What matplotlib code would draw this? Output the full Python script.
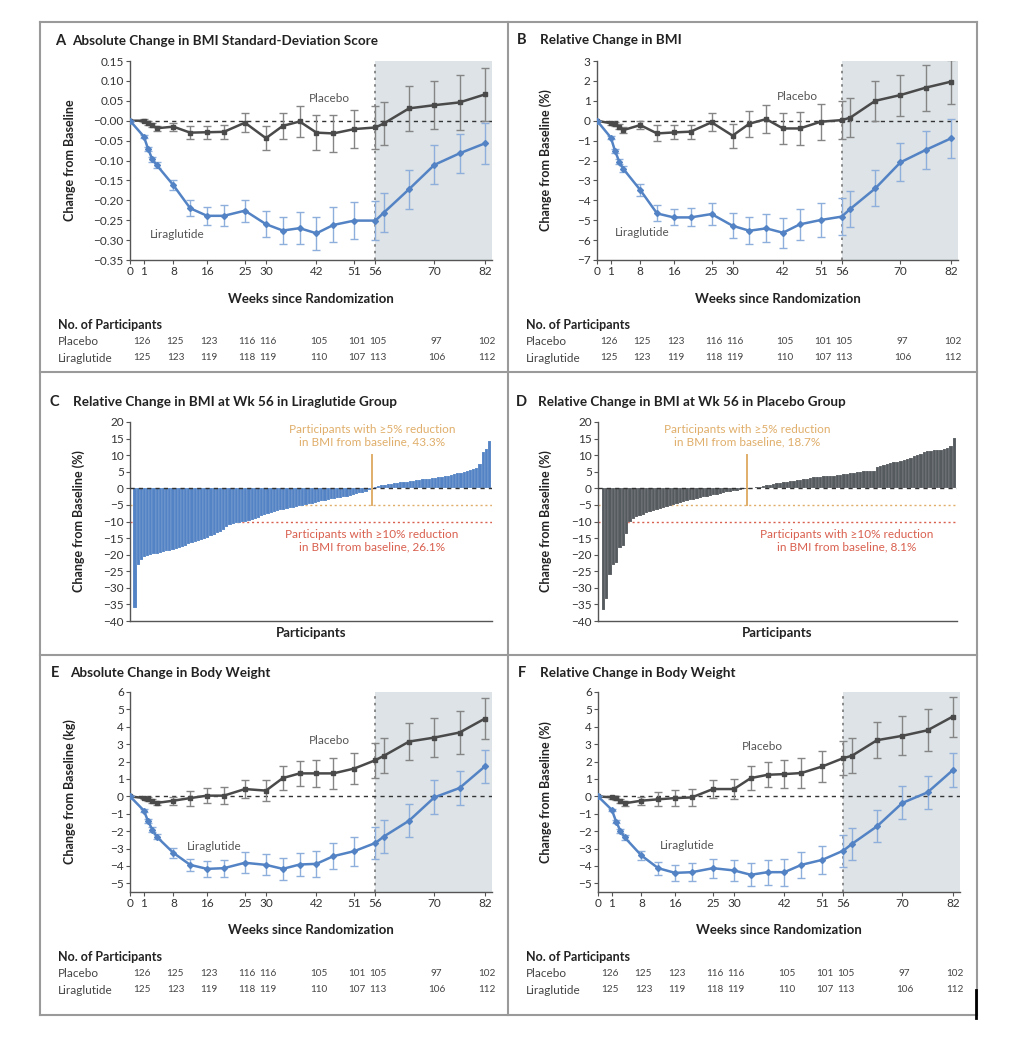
####### IMPORT LIBRARIES #######
import numpy as np
import matplotlib
matplotlib.use("Agg")
import matplotlib.pyplot as plt
from matplotlib.lines import Line2D
from matplotlib.ticker import FuncFormatter
from matplotlib.transforms import blended_transform_factory

plt.rcParams['font.family'] = ['Lato', 'DejaVu Sans']
plt.rcParams['axes.unicode_minus'] = True

####### DATA #######
weeks = [0, 1, 2, 3, 4, 8, 12, 16, 20, 25, 30, 34, 38, 42, 46, 51, 56, 58, 64, 70, 76, 82]
tick_weeks = [0, 1, 8, 16, 25, 30, 42, 51, 56, 70, 82]

# A: absolute change in BMI SD score
a_plac = [0, 0.0, -0.007, -0.011, -0.019, -0.015, -0.03, -0.029, -0.028, -0.005, -0.044, -0.013,
          -0.002, -0.03, -0.032, -0.021, -0.017, -0.007, 0.031, 0.039, 0.046, 0.066]
a_plac_err = [0, 0.004, 0.005, 0.005, 0.006, 0.01, 0.016, 0.016, 0.017, 0.024, 0.03, 0.033,
              0.038, 0.044, 0.047, 0.048, 0.055, 0.054, 0.056, 0.06, 0.07, 0.067]
a_lira = [0, -0.04, -0.071, -0.097, -0.111, -0.162, -0.22, -0.239, -0.239, -0.226, -0.26, -0.276,
          -0.27, -0.283, -0.262, -0.251, -0.251, -0.231, -0.172, -0.111, -0.082, -0.057]
a_lira_err = [0, 0.004, 0.005, 0.006, 0.007, 0.012, 0.02, 0.023, 0.026, 0.028, 0.033, 0.035,
              0.04, 0.042, 0.044, 0.046, 0.048, 0.049, 0.049, 0.049, 0.049, 0.052]

# B: relative change in BMI (%)
b_plac = [0, -0.13, -0.18, -0.3, -0.47, -0.22, -0.64, -0.59, -0.55, -0.08, -0.75, -0.15,
          0.08, -0.39, -0.39, -0.05, 0.03, 0.15, 1.0, 1.29, 1.66, 1.96]
b_plac_err = [0, 0.08, 0.1, 0.12, 0.14, 0.2, 0.4, 0.35, 0.35, 0.45, 0.6, 0.65,
              0.7, 0.78, 0.82, 0.9, 0.95, 0.97, 1.0, 1.03, 1.15, 1.1]
b_lira = [0, -0.85, -1.52, -2.06, -2.43, -3.48, -4.66, -4.86, -4.86, -4.69, -5.28, -5.53,
          -5.41, -5.63, -5.21, -4.99, -4.82, -4.44, -3.40, -2.09, -1.47, -0.89]
b_lira_err = [0, 0.08, 0.1, 0.12, 0.14, 0.3, 0.4, 0.4, 0.45, 0.55, 0.63, 0.67,
              0.7, 0.75, 0.78, 0.86, 0.92, 0.92, 0.9, 0.95, 0.94, 0.96]

# E: absolute change in body weight (kg)
e_plac = [0, -0.1, -0.15, -0.25, -0.38, -0.25, -0.1, 0.04, 0.04, 0.42, 0.33, 1.05,
          1.32, 1.32, 1.32, 1.6, 2.08, 2.33, 3.15, 3.38, 3.67, 4.47]
e_plac_err = [0, 0.08, 0.1, 0.12, 0.14, 0.24, 0.43, 0.45, 0.5, 0.5, 0.6, 0.7,
              0.72, 0.78, 0.88, 0.9, 1.0, 1.0, 1.05, 1.1, 1.24, 1.2]
e_lira = [0, -0.82, -1.43, -1.91, -2.31, -3.25, -3.94, -4.17, -4.13, -3.82, -3.94, -4.17,
          -3.92, -3.88, -3.44, -3.15, -2.68, -2.31, -1.4, -0.06, 0.48, 1.72]
e_lira_err = [0, 0.08, 0.1, 0.12, 0.14, 0.28, 0.36, 0.44, 0.49, 0.6, 0.6, 0.63,
              0.67, 0.74, 0.75, 0.83, 0.9, 0.94, 0.94, 0.98, 0.96, 0.97]

# F: relative change in body weight (%)
f_plac = [0, -0.06, -0.1, -0.25, -0.4, -0.25, -0.17, -0.1, -0.06, 0.42, 0.42, 1.05,
          1.24, 1.28, 1.34, 1.72, 2.2, 2.33, 3.23, 3.48, 3.8, 4.59]
f_plac_err = [0, 0.08, 0.1, 0.12, 0.14, 0.24, 0.4, 0.45, 0.48, 0.5, 0.6, 0.68,
              0.72, 0.8, 0.88, 0.88, 0.98, 1.0, 1.05, 1.12, 1.2, 1.15]
f_lira = [0, -0.78, -1.45, -1.97, -2.35, -3.4, -4.13, -4.4, -4.36, -4.13, -4.26, -4.51,
          -4.36, -4.36, -3.94, -3.65, -3.12, -2.74, -1.72, -0.38, 0.23, 1.51]
f_lira_err = [0, 0.08, 0.1, 0.12, 0.14, 0.28, 0.38, 0.45, 0.5, 0.55, 0.6, 0.65,
              0.72, 0.78, 0.75, 0.82, 0.92, 0.92, 0.92, 0.95, 0.95, 0.97]

# participants table
n_weeks = [0, 8, 16, 25, 30, 42, 51, 56, 70, 82]
n_plac = [126, 125, 123, 116, 116, 105, 101, 105, 97, 102]
n_lira = [125, 123, 119, 118, 119, 110, 107, 113, 106, 112]

# C: liraglutide group, relative change in BMI at week 56 (sorted)
c_vals = [-36.2, -23.2, -21.5, -20.8, -20.4, -20.1, -19.9, -19.7, -19.4, -19.2,
          -19.0, -18.8, -18.6, -18.4, -18.0, -17.7, -17.3, -16.9, -16.6, -16.3,
          -16.0, -15.6, -15.2, -14.9, -14.5, -14.1, -13.6, -13.1, -12.5, -11.8,
          -11.1, -10.7, -10.5, -10.4, -10.3, -10.2, -9.7, -9.4, -9.1, -8.8,
          -8.3, -7.9, -7.6, -7.3, -7.0, -6.8, -6.6, -6.4, -6.2, -6.0,
          -5.8, -5.6, -5.4, -5.2, -4.9, -4.8, -4.6, -4.4, -4.2, -3.9,
          -3.7, -3.5, -3.3, -3.2, -3.0, -2.8, -2.7, -2.5, -2.3, -2.0,
          -1.8, -1.5, -1.3, -1.0, -0.6, -0.2, 0.3, 0.6, 0.9, 1.1,
          1.2, 1.4, 1.5, 1.7, 1.8, 1.9, 2.0, 2.1, 2.3, 2.4,
          2.5, 2.7, 2.8, 2.9, 3.0, 3.2, 3.4, 3.5, 3.7, 3.8,
          4.0, 4.2, 4.5, 4.7, 4.9, 5.2, 5.5, 5.8, 6.1, 7.3,
          11.0, 11.8, 14.3]

# D: placebo group, relative change in BMI at week 56 (sorted)
d_vals = [-36.8, -33.3, -26.2, -23.0, -22.6, -18.0, -17.5, -13.9, -10.2, -9.2,
          -8.7, -8.3, -7.9, -7.5, -7.1, -6.8, -6.5, -6.2, -6.0, -5.7,
          -5.3, -5.0, -4.7, -4.4, -4.1, -3.9, -3.6, -3.4, -3.2, -2.9,
          -2.7, -2.5, -2.3, -2.1, -1.9, -1.6, -1.4, -1.2, -1.0, -0.8,
          -0.7, -0.5, -0.3, -0.1, 0.1, 0.2, 0.3, 0.5, 0.7, 0.9,
          1.1, 1.3, 1.5, 1.7, 1.8, 1.9, 2.1, 2.3, 2.5, 2.6,
          2.8, 2.9, 3.1, 3.3, 3.4, 3.5, 3.6, 3.7, 3.8, 3.8,
          3.9, 4.1, 4.3, 4.4, 4.5, 4.6, 4.8, 5.0, 5.1, 5.2,
          5.3, 5.3, 6.3, 6.6, 6.9, 7.2, 7.5, 7.8, 8.0, 8.2,
          8.5, 8.8, 9.2, 9.6, 10.0, 10.5, 10.9, 11.2, 11.4, 11.5,
          11.5, 11.6, 11.8, 12.2, 12.8, 15.1]

####### CONSTANTS #######
W, H = 1030, 1038
BLUE = "#5383c4"
BLUE_ERR = "#8eaedb"
GRAY = "#4a4a4a"
GRAY_ERR = "#858585"
SHADE = "#dde3e6"
ORANGE = "#e0ae6a"
RED = "#d9604f"
TXT = "#333333"
XMIN = -2.3
XMAX = 83.7


####### FUNCTIONS #######
def fx(px):
    return px / W


def fy(py):
    return 1 - py / H


def ax_rect(left, top, right, bottom):
    # pixel box -> figure fraction rect
    return [fx(left), fy(bottom), (right - left) / W, (bottom - top) / H]


def fwd(w):
    # baseline squeezed against the axis, like in the journal figure
    w = np.asarray(w, dtype=float)
    return np.where(w < 1, XMIN + (1 - XMIN) * w, w)


def inv(p):
    p = np.asarray(p, dtype=float)
    return np.where(p < 1, (p - XMIN) / (1 - XMIN), p)


def minus_fmt(fmt):
    return FuncFormatter(lambda v, pos: (fmt % v).replace("-", "\u2212"))


def style_axis(ax):
    for s in ["top", "right"]:
        ax.spines[s].set_visible(False)
    for s in ["left", "bottom"]:
        ax.spines[s].set_color("#555555")
        ax.spines[s].set_linewidth(1.0)
    ax.tick_params(direction="out", length=3, width=0.8, color="#555555",
                   labelsize=8.5, labelcolor=TXT, pad=1.5)


def title(letter, text, lx, tx, y):
    fig.text(fx(lx), fy(y), letter, fontsize=10.5, fontweight="bold", color="#222222", va="center")
    fig.text(fx(tx), fy(y), text, fontsize=9.7, fontweight="bold", color="#222222", va="center")


def line_panel(rect, plac, plac_err, lira, lira_err, ylim, yticks, fmt, ylabel, ylab_x, xlab_y,
               plac_lbl, lira_lbl):
    ax = fig.add_axes(rect)
    ax.set_xscale("function", functions=(fwd, inv))
    ax.axvspan(56, XMAX, color=SHADE, zorder=0, lw=0)
    ax.axvline(56, color="#777777", ls=(0, (1.5, 2.5)), lw=1.2, zorder=1)
    ax.axhline(0, color="#333333", ls=(0, (3, 3)), lw=1.0, zorder=2)
    ax.errorbar(weeks, plac, yerr=plac_err, color=GRAY, ecolor=GRAY_ERR, elinewidth=1.0,
                capsize=3, capthick=1.0, lw=1.8, marker="s", ms=3, zorder=4)
    ax.errorbar(weeks, lira, yerr=lira_err, color=BLUE, ecolor=BLUE_ERR, elinewidth=1.0,
                capsize=3, capthick=1.0, lw=1.8, marker="D", ms=3, zorder=5)
    ax.set_xlim(0, XMAX)
    ax.set_ylim(*ylim)
    ax.set_xticks(tick_weeks)
    ax.set_xticklabels([str(t) for t in tick_weeks])
    ax.set_yticks(yticks)
    ax.yaxis.set_major_formatter(minus_fmt(fmt))
    ax.minorticks_off()
    style_axis(ax)
    ax.set_ylabel(ylabel, fontsize=9, fontweight="bold", color="#222222")
    ax.yaxis.set_label_coords(ylab_x, 0.5)
    ax.set_xlabel("Weeks since Randomization", fontsize=9.5, fontweight="bold", color="#222222")
    ax.xaxis.set_label_coords(0.5, xlab_y)
    ax.text(plac_lbl[0], plac_lbl[1], "Placebo", fontsize=8.5, color="#555555", ha="center", va="center")
    ax.text(lira_lbl[0], lira_lbl[1], "Liraglutide", fontsize=8.5, color="#555555", ha="center", va="center")
    return ax


def table(ax, lab_x, top_y):
    tr = blended_transform_factory(ax.transAxes, fig.transFigure)
    fig.text(fx(lab_x), fy(top_y), "No. of Participants", fontsize=9, fontweight="bold",
             color="#222222", va="center")
    fig.text(fx(lab_x), fy(top_y + 16.5), "Placebo", fontsize=8.5, color="#444444", va="center")
    fig.text(fx(lab_x), fy(top_y + 33), "Liraglutide", fontsize=8.5, color="#444444", va="center")
    for w, p, l in zip(n_weeks, n_plac, n_lira):
        xa = (w + 0.5 - XMIN) / (XMAX - XMIN)
        ax.text(xa, fy(top_y + 16.5), str(p), transform=tr, fontsize=7.2, color="#444444",
                ha="center", va="center")
        ax.text(xa, fy(top_y + 33), str(l), transform=tr, fontsize=7.2, color="#444444",
                ha="center", va="center")


def bar_panel(rect, vals, color, ylab_x, pct5, pct10, red_x):
    ax = fig.add_axes(rect)
    n = len(vals)
    idx = np.arange(n)
    ax.bar(idx, vals, width=1.0, color=color, edgecolor=(1, 1, 1, 0.35), lw=0.3, zorder=2)
    ax.set_xlim(-1.6, n - 0.2)
    ax.set_ylim(-40, 20)
    ax.axhline(0, color="#333333", ls=(0, (3, 3)), lw=1.0, zorder=3)
    ax.axhline(-5, color=ORANGE, ls=(0, (1.5, 2)), lw=1.0, zorder=1)
    ax.axhline(-10, color=RED, ls=(0, (1.5, 2)), lw=1.0, zorder=1)
    cross = np.searchsorted(vals, 0) - 1.0
    ax.plot([cross, cross], [-5, 10], color=ORANGE, lw=1.4, zorder=4)
    ax.text(cross, 16, "Participants with \u22655% reduction\nin BMI from baseline, " + pct5,
            color=ORANGE, fontsize=8.5, ha="center", va="center", linespacing=1.15)
    ax.text(red_x, -15.8, "Participants with \u226510% reduction\nin BMI from baseline, " + pct10,
            color=RED, fontsize=8.5, ha="center", va="center", linespacing=1.15,
            transform=blended_transform_factory(ax.transAxes, ax.transData))
    ax.set_yticks(np.arange(-40, 21, 5))
    ax.yaxis.set_major_formatter(minus_fmt("%d"))
    ax.set_xticks([])
    style_axis(ax)
    ax.set_ylabel("Change from Baseline (%)", fontsize=9, fontweight="bold", color="#222222")
    ax.yaxis.set_label_coords(ylab_x, 0.5)
    ax.set_xlabel("Participants", fontsize=9.5, fontweight="bold", color="#222222", labelpad=4)
    return ax


####### BUILD FIGURE #######
fig = plt.figure(figsize=(W / 100, H / 100), dpi=100)
fig.patch.set_facecolor("white")

# panel frames
frame = dict(color="#9a9a9a", lw=1.5)
fig.add_artist(Line2D([fx(40), fx(977)], [fy(22), fy(22)], **frame))
fig.add_artist(Line2D([fx(40), fx(977)], [fy(1015), fy(1015)], **frame))
fig.add_artist(Line2D([fx(40), fx(40)], [fy(22), fy(1015)], **frame))
fig.add_artist(Line2D([fx(977), fx(977)], [fy(22), fy(1015)], **frame))
fig.add_artist(Line2D([fx(508), fx(508)], [fy(22), fy(1015)], **frame))
fig.add_artist(Line2D([fx(40), fx(977)], [fy(372), fy(372)], **frame))
fig.add_artist(Line2D([fx(40), fx(977)], [fy(655), fy(655)], **frame))
fig.add_artist(Line2D([fx(976), fx(976)], [fy(990), fy(1018)], color="black", lw=2))

# A
axA = line_panel(ax_rect(130, 61, 492, 260), a_plac, a_plac_err, a_lira, a_lira_err,
                 (-0.35, 0.15), np.arange(-0.35, 0.151, 0.05), "%.2f",
                 "Change from Baseline", -0.15, -0.165, (45, 0.055), (9, -0.285))
title("A", "Absolute Change in BMI Standard-Deviation Score", 55, 72, 41)
table(axA, 58, 325)

# B
axB = line_panel(ax_rect(597, 61, 958, 260), b_plac, b_plac_err, b_lira, b_lira_err,
                 (-7, 3), np.arange(-7, 4, 1), "%d",
                 "Change from Baseline (%)", -0.125, -0.165, (45.5, 1.24), (8.5, -5.6))
title("B", "Relative Change in BMI", 517, 540, 40)
table(axB, 526, 325)

# C
bar_panel(ax_rect(130, 422, 492, 621), c_vals, BLUE, -0.125, "43.3%", "26.1%", 0.668)
title("C", "Relative Change in BMI at Wk 56 in Liraglutide Group", 50, 73, 402)

# D
bar_panel(ax_rect(598, 422, 957, 621), d_vals, "#555a5e", -0.127, "18.7%", "8.1%", 0.693)
title("D", "Relative Change in BMI at Wk 56 in Placebo Group", 516, 538, 402)

# E
axE = line_panel(ax_rect(130, 692, 492, 892), e_plac, e_plac_err, e_lira, e_lira_err,
                 (-5.5, 6), np.arange(-5, 7, 1), "%d",
                 "Change from Baseline (kg)", -0.148, -0.16, (45, 3.2), (17.7, -2.9))
title("E", "Absolute Change in Body Weight", 51, 70, 673)
table(axE, 58, 957)

# F
axF = line_panel(ax_rect(598, 692, 960, 892), f_plac, f_plac_err, f_lira, f_lira_err,
                 (-5.5, 6), np.arange(-5, 7, 1), "%d",
                 "Change from Baseline (%)", -0.126, -0.16, (36.7, 2.87), (18.9, -2.83))
title("F", "Relative Change in Body Weight", 518, 540, 673)
table(axF, 526, 957)

fig.savefig("out.png", dpi=100, facecolor="white")
